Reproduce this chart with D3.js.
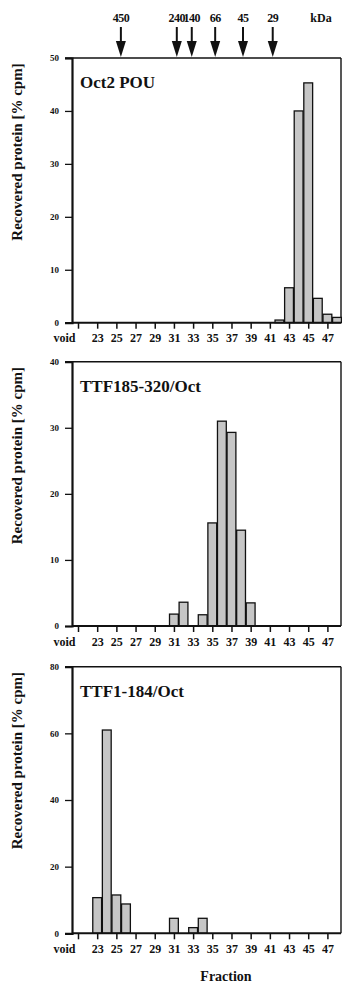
<!DOCTYPE html>
<html>
<head>
<meta charset="utf-8">
<script src="https://cdn.jsdelivr.net/npm/d3@7"></script>
<style>
  body { margin: 0; background: #fff; }
  svg { display: block; }
  svg text { font-family: "Liberation Serif", "Times New Roman", serif !important; font-weight: bold; }
</style>
</head>
<body>
<div id="chart"></div>
<script>
// fraction numbers (21 stands for "void")
const fractionTicks = [21, 23, 25, 27, 29, 31, 33, 35, 37, 39, 41, 43, 45, 47];

// size markers above the first panel (fraction position, kDa label)
const markerFractions = [25.47, 31.3, 32.86, 35.3, 38.2, 41.3];
const markerLabels = ['450', '240', '140', '66', '45', '29'];

// panel 1: Oct2 POU
const oct2Fractions = [42, 43, 44, 45, 46, 47, 48];
const oct2Values = [0.5, 6.6, 40, 45.3, 4.6, 1.6, 1.0];

// panel 2: TTF185-320/Oct
const ttf185Fractions = [31, 32, 34, 35, 36, 37, 38, 39];
const ttf185Values = [1.8, 3.6, 1.7, 15.6, 31.0, 29.3, 14.5, 3.5];

// panel 3: TTF1-184/Oct
const ttf1Fractions = [23, 24, 25, 26, 31, 33, 34];
const ttf1Values = [10.7, 61, 11.5, 8.8, 4.5, 1.7, 4.5];

const panelTitles = ['Oct2 POU', 'TTF185-320/Oct', 'TTF1-184/Oct'];
const panelMax = [50, 40, 80];
const panelTicks = [[0, 10, 20, 30, 40, 50], [0, 10, 20, 30, 40], [0, 20, 40, 60, 80]];

const width = 342;
const height = 985;
const left = 72;
const right = 341;
const serif = '"Liberation Serif", "Times New Roman", serif';

const svg = d3.select('#chart').append('svg')
  .attr('width', width)
  .attr('height', height);

const x = d3.scaleLinear().domain([21, 47]).range([78, 327.4]);

const panels = [
  { top: 58, bottom: 322.7, fr: oct2Fractions, vals: oct2Values },
  { top: 361.7, bottom: 626, fr: ttf185Fractions, vals: ttf185Values },
  { top: 666.7, bottom: 933.3, fr: ttf1Fractions, vals: ttf1Values },
];

panels.forEach((p, i) => {
  const g = svg.append('g');
  const y = d3.scaleLinear().domain([0, panelMax[i]]).range([p.bottom, p.top]);

  // frame: top and right
  g.append('line')
    .attr('x1', left - 7).attr('x2', right)
    .attr('y1', p.top).attr('y2', p.top)
    .attr('stroke', '#111').attr('stroke-width', 1.6);
  g.append('line')
    .attr('x1', right).attr('x2', right)
    .attr('y1', p.top).attr('y2', p.bottom)
    .attr('stroke', '#111').attr('stroke-width', 1.4);

  // bars
  const data = p.fr.map((f, j) => ({ f: f, v: p.vals[j] }));
  g.selectAll('rect.bar')
    .data(data)
    .join('rect')
    .attr('class', 'bar')
    .attr('x', (d) => x(d.f - 0.46))
    .attr('width', (d) => x(d.f + 0.46) - x(d.f - 0.46))
    .attr('y', (d) => y(d.v))
    .attr('height', (d) => y(0) - y(d.v))
    .attr('fill', '#c6c6c6')
    .attr('stroke', '#111')
    .attr('stroke-width', 1.3);

  // y axis
  const ya = g.append('g')
    .attr('transform', `translate(${left},0)`)
    .call(d3.axisLeft(y).tickValues(panelTicks[i]).tickSize(7).tickPadding(6));
  ya.attr('font-family', serif);
  ya.select('.domain').attr('stroke', '#111').attr('stroke-width', 2.2);
  ya.selectAll('.tick line').attr('stroke', '#111').attr('stroke-width', 1.3);
  ya.selectAll('.tick text').style('font-size', '9px').attr('fill', '#111');

  // x axis
  const xa = g.append('g')
    .attr('transform', `translate(0,${p.bottom})`)
    .call(d3.axisBottom(x)
      .tickValues(fractionTicks)
      .tickSize(6)
      .tickPadding(5)
      .tickFormat((d) => (d === 21 ? 'void' : d)));
  xa.attr('font-family', serif);
  xa.select('.domain').attr('d', `M${left},0H${right}`).attr('stroke', '#111').attr('stroke-width', 2);
  xa.selectAll('.tick line').attr('stroke', '#111').attr('stroke-width', 1.5);
  xa.selectAll('.tick text')
    .style('font-size', '12px')
    .attr('fill', '#111')
    .attr('dx', (d) => (d === 21 ? -14 : 0));

  // y title
  g.append('text')
    .attr('transform', `translate(22,${p.top + 94}) rotate(-90)`)
    .attr('text-anchor', 'middle')
    .style('font-size', '15px')
    .attr('fill', '#111')
    .text('Recovered protein [% cpm]');

  // panel title
  g.append('text')
    .attr('x', 80)
    .attr('y', p.top + 30)
    .style('font-size', '17px')
    .attr('fill', '#111')
    .text(panelTitles[i]);
});

// size markers
const mk = svg.append('g');
markerFractions.forEach((f, i) => {
  const cx = x(f);
  mk.append('line')
    .attr('x1', cx).attr('x2', cx)
    .attr('y1', 27).attr('y2', 44)
    .attr('stroke', '#111').attr('stroke-width', 2);
  mk.append('path')
    .attr('d', `M${cx - 5},41L${cx + 5},41L${cx},57Z`)
    .attr('fill', '#111');
  mk.append('text')
    .attr('x', cx)
    .attr('y', 22)
    .attr('text-anchor', 'middle')
    .style('font-size', '12px')
    .style('letter-spacing', '-0.5px')
    .attr('fill', '#111')
    .text(markerLabels[i]);
});
mk.append('text')
  .attr('x', 321)
  .attr('y', 22)
  .attr('text-anchor', 'middle')
  .style('font-size', '12px')
  .attr('fill', '#111')
  .text('kDa');

// x title
svg.append('text')
  .attr('x', 226)
  .attr('y', 981)
  .attr('text-anchor', 'middle')
  .style('font-size', '14px')
  .attr('fill', '#111')
  .text('Fraction');
</script>
</body>
</html>
